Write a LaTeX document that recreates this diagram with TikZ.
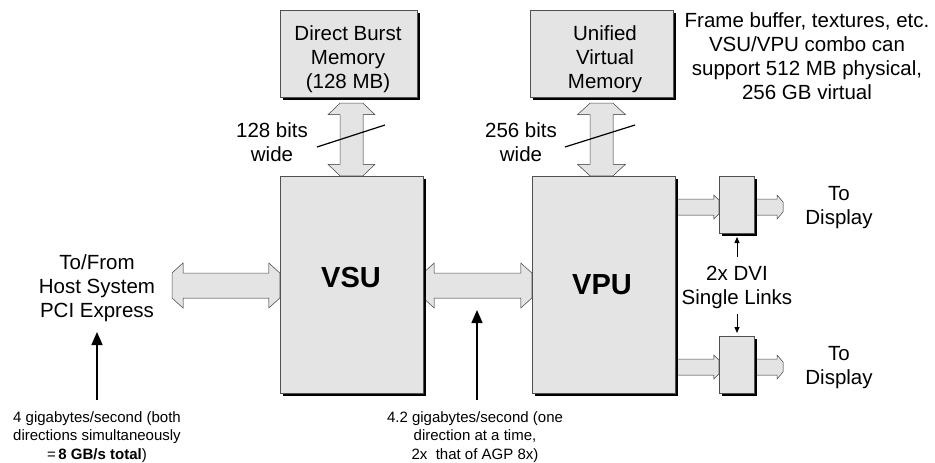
\documentclass[tikz,border=0pt]{standalone}
\usepackage{fontspec}
\setmainfont{Liberation Sans}
\usetikzlibrary{shadows,calc,arrows.meta}
\definecolor{boxgray}{RGB}{228,228,228}
\definecolor{edgegray}{RGB}{80,80,80}
% double-ended horizontal block arrow: #1 start, #2 end, #3 half shaft, #4 half flange, #5 head length
\newcommand\hdshape[5]{let \p1=#1,\p2=#2 in (\x1,\y1+#3pt) -- (\x1+#5pt,\y1+#4pt) -- (\x1+#5pt,\y1+#3pt) -- (\x2-#5pt,\y1+#3pt) -- (\x2-#5pt,\y1+#4pt) -- (\x2,\y1+#3pt) -- (\x2,\y1-#3pt) -- (\x2-#5pt,\y1-#4pt) -- (\x2-#5pt,\y1-#3pt) -- (\x1+#5pt,\y1-#3pt) -- (\x1+#5pt,\y1-#4pt) -- (\x1,\y1-#3pt) -- cycle}
% double-ended vertical block arrow: #1 top, #2 bottom
\newcommand\vdshape[5]{let \p1=#1,\p2=#2 in (\x1+#3pt,\y1) -- (\x1+#4pt,\y1-#5pt) -- (\x1+#3pt,\y1-#5pt) -- (\x1+#3pt,\y2+#5pt) -- (\x1+#4pt,\y2+#5pt) -- (\x1+#3pt,\y2) -- (\x1-#3pt,\y2) -- (\x1-#4pt,\y2+#5pt) -- (\x1-#3pt,\y2+#5pt) -- (\x1-#3pt,\y1-#5pt) -- (\x1-#4pt,\y1-#5pt) -- (\x1-#3pt,\y1) -- cycle}
% single right block arrow: #6 half tip
\newcommand\rshape[6]{let \p1=#1,\p2=#2 in (\x1,\y1+#3pt) -- (\x2-#5pt,\y1+#3pt) -- (\x2-#5pt,\y1+#4pt) -- (\x2,\y1+#6pt) -- (\x2,\y1-#6pt) -- (\x2-#5pt,\y1-#4pt) -- (\x2-#5pt,\y1-#3pt) -- (\x1,\y1-#3pt) -- cycle}
\tikzset{
  blockbox/.style={draw=edgegray, line width=0.5pt, fill=boxgray, inner sep=0pt,
    drop shadow={fill=black, opacity=1, shadow xshift=2.5pt, shadow yshift=-2.5pt}},
  arrowfill/.style={fill=boxgray, draw=edgegray, line width=0.5pt},
  arrowshade/.style={fill=black, shift={(2pt,-2pt)}},
  lbl/.style={align=center, inner sep=0pt, font=\fontsize{20.5}{24}\selectfont},
  small/.style={align=center, inner sep=0pt, font=\fontsize{15}{18.5}\selectfont},
  big/.style={inner sep=0pt, font=\fontsize{29}{32}\selectfont\bfseries},
  thinarrow/.style={line width=1.5pt, -{Triangle[length=13pt,width=11pt]}},
  tinyarrow/.style={line width=0.8pt, -{Triangle[length=6pt,width=5pt]}},
  slash/.style={line width=1.2pt}
}
\begin{document}
\begin{tikzpicture}[x=1pt,y=-1pt]
\useasboundingbox (0,0) rectangle (935,463);
% box positions (nodes only for reference, drawn later)
\path (351.5,284.5) node[minimum width=143pt, minimum height=217pt, inner sep=0pt] (vsu) {};
\path (603.5,284.5) node[minimum width=143pt, minimum height=217pt, inner sep=0pt] (vpu) {};
\path (348.5,53.5) node[minimum width=137pt, minimum height=87pt, inner sep=0pt] (dbm) {};
\path (601.5,53.5) node[minimum width=143pt, minimum height=87pt, inner sep=0pt] (uvm) {};
\path (736.5,204.5) node[minimum width=35pt, minimum height=57pt, inner sep=0pt] (dvia) {};
\path (736.5,364.5) node[minimum width=35pt, minimum height=57pt, inner sep=0pt] (dvib) {};
\coordinate (hostend) at (172,285.5);
\coordinate (dispa) at (783,207);
\coordinate (dispb) at (783,367);

% block arrows
\fill[arrowshade] \hdshape{(hostend)}{(vsu.west)}{12.5}{22.5}{11};
\filldraw[arrowfill] \hdshape{(hostend)}{(vsu.west)}{12.5}{22.5}{11};
\fill[arrowshade] \hdshape{($(vsu.east)+(0,1)$)}{(vpu.west)}{12.5}{22.5}{11};
\filldraw[arrowfill] \hdshape{($(vsu.east)+(0,1)$)}{(vpu.west)}{12.5}{22.5}{11};
\fill[arrowshade] \vdshape{($(dbm.south -| vsu.north)+(0,6)$)}{(vsu.north)}{11.5}{23.5}{11.5};
\filldraw[arrowfill] \vdshape{($(dbm.south -| vsu.north)+(0,6)$)}{(vsu.north)}{11.5}{23.5}{11.5};
\fill[arrowshade] \vdshape{($(uvm.south)+(0,6)$)}{(uvm.south |- vpu.north)}{11.5}{24}{11.5};
\filldraw[arrowfill] \vdshape{($(uvm.south)+(0,6)$)}{(uvm.south |- vpu.north)}{11.5}{24}{11.5};
\fill[arrowshade] \rshape{($(vpu.east |- dispa)$)}{(dvia.west)}{8}{12}{5}{7};
\filldraw[arrowfill] \rshape{($(vpu.east |- dispa)$)}{(dvia.west)}{8}{12}{5}{7};
\fill[arrowshade] \rshape{($(vpu.east |- dispb)$)}{(dvib.west)}{8}{12}{5}{7};
\filldraw[arrowfill] \rshape{($(vpu.east |- dispb)$)}{(dvib.west)}{8}{12}{5}{7};
\fill[arrowshade] \rshape{($(dvia.east |- dispa)$)}{(dispa)}{8}{12}{6}{5};
\filldraw[arrowfill] \rshape{($(dvia.east |- dispa)$)}{(dispa)}{8}{12}{6}{5};
\fill[arrowshade] \rshape{($(dvib.east |- dispb)$)}{(dispb)}{8}{12}{6}{5};
\filldraw[arrowfill] \rshape{($(dvib.east |- dispb)$)}{(dispb)}{8}{12}{6}{5};

% boxes
\node[blockbox, minimum width=143pt, minimum height=217pt] at (vsu) {};
\node[blockbox, minimum width=143pt, minimum height=217pt] at (vpu) {};
\node[blockbox, minimum width=137pt, minimum height=87pt] at (dbm) {};
\node[blockbox, minimum width=143pt, minimum height=87pt] at (uvm) {};
\node[blockbox, minimum width=35pt, minimum height=57pt] at (dvia) {};
\node[blockbox, minimum width=35pt, minimum height=57pt] at (dvib) {};

% texts
\node[lbl] (tdbm) at (348,59.5) {Direct Burst\\Memory\\(128 MB)};
\node[lbl] (tuvm) at (605,59.5) {Unified\\Virtual\\Memory};
\node[lbl] (tnote) at (807,56) {Frame buffer, textures, etc.\\VSU/VPU combo can\\support 512 MB physical,\\256 GB virtual};
\node[lbl] (w128) at (272,142) {128 bits\\wide};
\node[lbl] (w256) at (521,142) {256 bits\\wide};
\node[lbl] (host) at (97,288) {To/From\\Host System\\PCI Express};
\node[big] (tvsu) at (351,278) {VSU};
\node[big] (tvpu) at (602,285) {VPU};
\node[lbl] (tda) at (839,208) {To\\Display};
\node[lbl] (tdb) at (839,368) {To\\Display};
\node[lbl] (tdvi) at (737,287) {2x DVI\\Single Links};
\node[small] (bw1) at (97,437) {4 gigabytes/second (both\\directions simultaneously\\=\,\textbf{8 GB/s total})};
\node[small] (bw2) at (475,437) {4.2 gigabytes/second (one\\direction at a time,\\2x~ that of AGP 8x)};

% slash marks
\coordinate (s1a) at (317,147); \coordinate (s1b) at (385,125);
\coordinate (s2a) at (565,147); \coordinate (s2b) at (635,125);
\draw[slash] (s1a) -- (s1b);
\draw[slash] (s2a) -- (s2b);

% thin arrows
\coordinate (a1s) at (97,400); \coordinate (a1e) at (97,332);
\coordinate (a2s) at (477,400); \coordinate (a2e) at (477,310);
\draw[thinarrow] (a1s) -- (a1e);
\draw[thinarrow] (a2s) -- (a2e);
\coordinate (d1s) at (737,257); \coordinate (d1e) at (737,237);
\coordinate (d2s) at (737,314); \coordinate (d2e) at (737,333);
\draw[tinyarrow] (d1s) -- (d1e);
\draw[tinyarrow] (d2s) -- (d2e);
\end{tikzpicture}
\end{document}
